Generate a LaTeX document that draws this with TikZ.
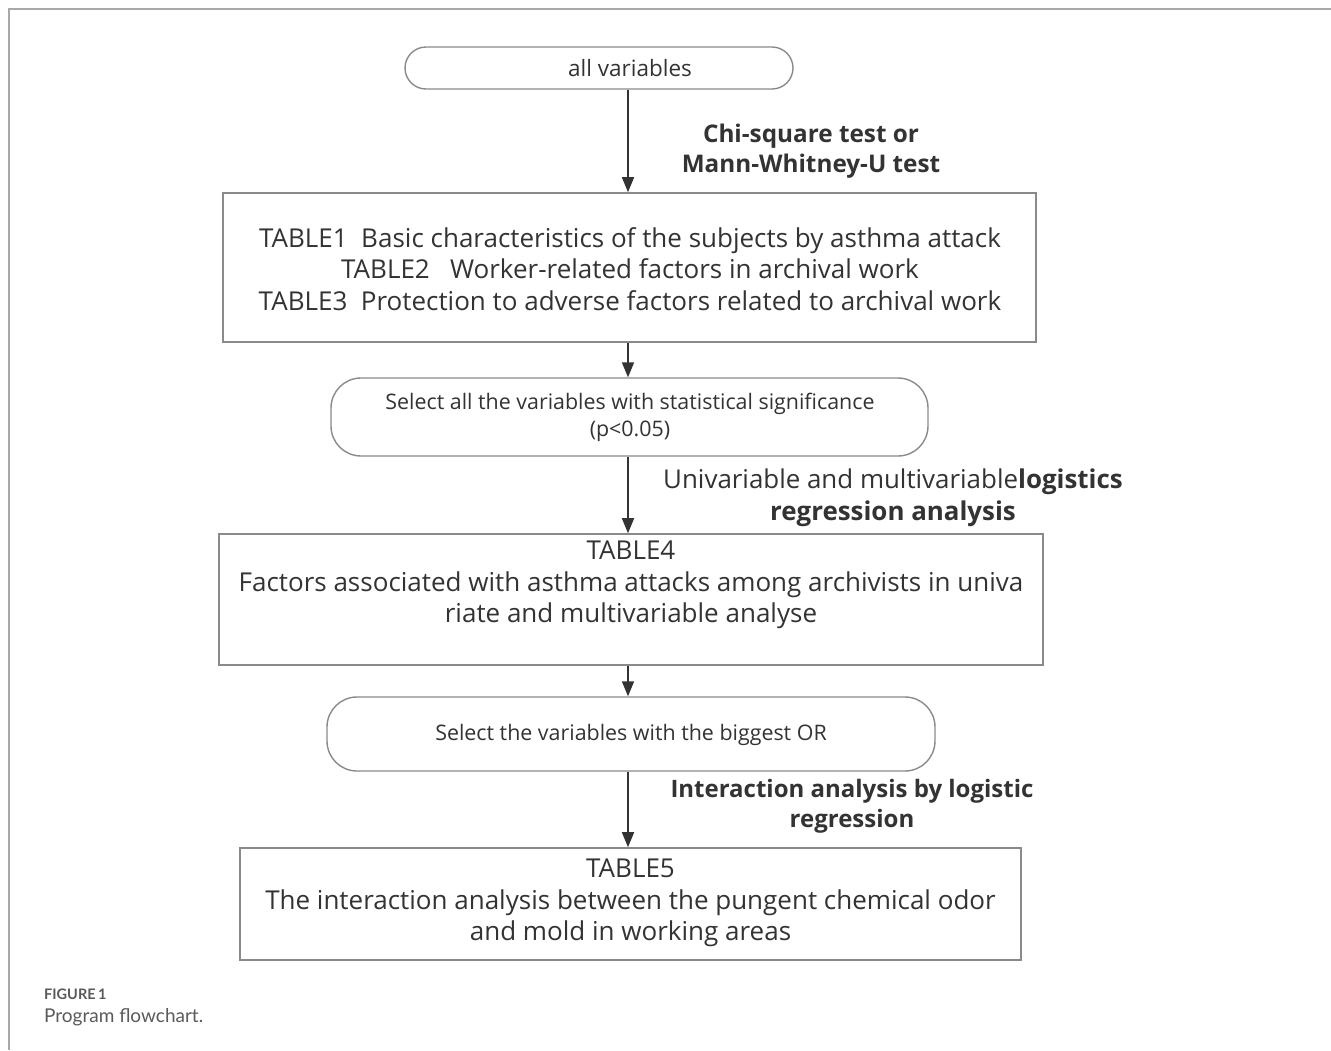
\documentclass[tikz,border=0pt]{standalone}
\usepackage{fontspec}
\setmainfont{Open Sans}
\newfontfamily\capfont{Lato}
\usetikzlibrary{arrows.meta}
\definecolor{txtc}{HTML}{333333}
\definecolor{boxc}{HTML}{8A8A8A}
\definecolor{arrc}{HTML}{333333}
\definecolor{framec}{HTML}{A8A8A8}
\definecolor{capc}{HTML}{5A5A5A}
\begin{document}
\begin{tikzpicture}[x=1pt,y=-1pt,
  box/.style={draw=boxc,line width=1.6pt,rectangle,inner sep=0pt},
  pill/.style={draw=boxc,line width=1.4pt,rectangle,inner sep=0pt},
  bigtxt/.style={text=txtc,align=center,inner sep=0pt,font=\fontsize{26}{31.5}\selectfont},
  smalltxt/.style={text=txtc,align=center,inner sep=0pt,font=\fontsize{21.4}{27}\selectfont},
  lbl/.style={text=txtc,align=center,inner sep=0pt,font=\fontsize{24}{30}\selectfont\bfseries},
  arr/.style={draw=arrc,line width=1.6pt,-{Triangle[length=15pt,width=12pt]}},
  frame/.style={draw=framec,line width=2pt}]
\useasboundingbox (0,0) rectangle (1331,1050);
\fill[white] (0,0) rectangle (1331,1050);
% frame
\coordinate (fa) at (9,1050);
\coordinate (fb) at (9,9);
\coordinate (fc) at (1331,9);
\draw[frame] (fa) -- (fb) -- (fc);
% arrow axis
\coordinate (ax) at (628,0);
% node 1
\node[pill,rounded corners=21pt,minimum width=388pt,minimum height=42pt] (n1) at (599,68) {};
\node[smalltxt,font=\fontsize{22.5}{27}\selectfont] (n1t) at (630,68) {all variables};
% box 2
\node[box,minimum width=813pt,minimum height=149pt] (b2) at (629.5,267.5) {};
\node[bigtxt] (b2t) at (630,269) {TABLE1\ \ Basic characteristics of the subjects by asthma attack\\TABLE2\ \ \ Worker-related factors in archival work\\TABLE3\ \ Protection to adverse factors related to archival work};
% node 3
\node[pill,rounded corners=30pt,minimum width=597pt,minimum height=78pt] (n3) at (629.5,417) {};
\node[smalltxt] (n3t) at (630,417.5) {Select all the variables with statistical significance\\(p<0.05)};
% box 4
\node[box,minimum width=824pt,minimum height=131pt] (b4) at (631,599.5) {};
\node[bigtxt] (b4t) at (631,585) {TABLE4\\Factors associated with asthma attacks among archivists in univa\\riate and multivariable analyse};
% node 5
\node[pill,rounded corners=30pt,minimum width=608pt,minimum height=74pt] (n5) at (631,734) {};
\node[smalltxt] (n5t) at (631,735) {Select the variables with the biggest OR};
% box 6
\node[box,minimum width=781pt,minimum height=112pt] (b6) at (630.5,904) {};
\node[bigtxt] (b6t) at (630.5,903) {TABLE5\\The interaction analysis between the pungent chemical odor\\and mold in working areas};
% arrows
\draw[arr] (n1.south -| ax) -- (b2.north -| ax);
\draw[arr] (b2.south -| ax) -- (n3.north -| ax);
\draw[arr] (n3.south -| ax) -- (b4.north -| ax);
\draw[arr] (b4.south -| ax) -- (n5.north -| ax);
\draw[arr] (n5.south -| ax) -- (b6.north -| ax);
% labels
\node[lbl,font=\fontsize{24.3}{30}\selectfont\bfseries] (l1) at (811,151) {Chi-square test or\\Mann-Whitney-U test};
\node[text=txtc,align=center,inner sep=0pt,font=\fontsize{25.9}{32}\selectfont] (l2) at (893,498) {Univariable and multivariable\textbf{logistics}\\\textbf{regression analysis}};
\node[lbl] (l3) at (852,806) {Interaction analysis by logistic\\regression};
% caption
\node[anchor=west,inner sep=0pt,text=capc,font=\capfont\bfseries\fontsize{14.5}{16}\selectfont] (cap1) at (44,994) {FIGURE\,1};
\node[anchor=west,inner sep=0pt,text=capc,font=\capfont\fontsize{19}{20}\selectfont] (cap2) at (44,1017) {Program flowchart.};
\end{tikzpicture}
\end{document}
